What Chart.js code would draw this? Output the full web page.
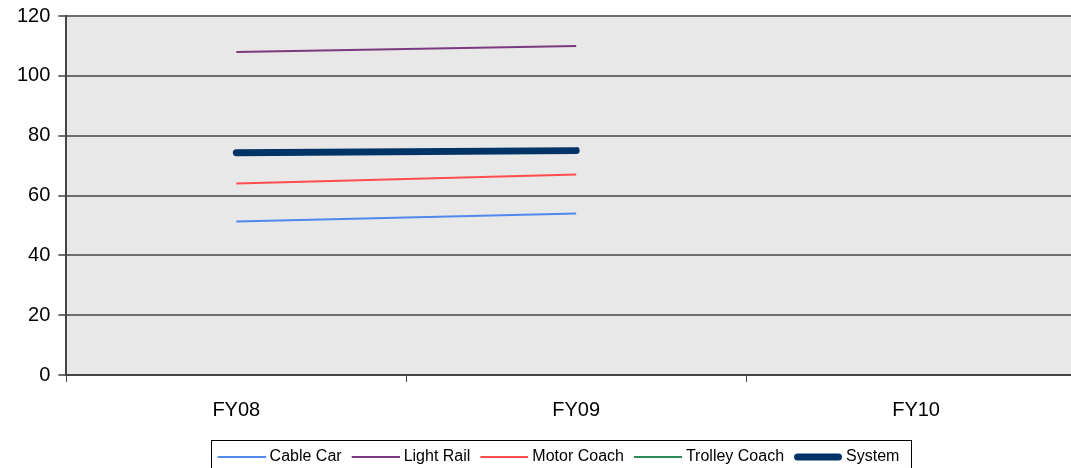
<!DOCTYPE html>
<html>
<head>
<meta charset="utf-8">
<script src="https://cdn.jsdelivr.net/npm/chart.js@4.4.1/dist/chart.umd.min.js"></script>
<style>
  html, body { margin: 0; padding: 0; background: #fff; overflow: hidden; }
  #wrap { position: relative; width: 1090px; height: 475px; }
</style>
</head>
<body>
<div id="wrap"><canvas id="chart"></canvas></div>
<script>
// data
const years        = ['FY08', 'FY09', 'FY10'];
const cableCar     = [51.3, 54, null];
const lightRail    = [108, 110, null];
const motorCoach   = [64, 67, null];
const trolleyCoach = [74.6, 75.3, null];
const systemAll    = [74.3, 75, null];
const yTicks       = [0, 20, 40, 60, 80, 100, 120];

const FONT = 'Liberation Sans, Arial, sans-serif';
const LEG_FONT = 16;
const LEG_BOX = 44;   // space chart.js keeps for the marker

// grey plot background
const plotBg = {
  id: 'plotBg',
  beforeDraw(chart) {
    const { ctx, chartArea: a } = chart;
    ctx.save();
    ctx.fillStyle = '#e8e8e8';
    ctx.fillRect(a.left, a.top, a.right - a.left, a.bottom - a.top);
    ctx.restore();
  }
};

// legend sits a bit right of the canvas centre in the original
const legendShift = {
  id: 'legendShift',
  afterLayout(chart) {
    if (!chart.legend) return;
    chart.legend.left += 11;
    chart.legend.right += 11;
  }
};

// frame round the legend
const legendFrame = {
  id: 'legendFrame',
  afterDraw(chart) {
    const boxes = chart.legend && chart.legend.legendHitBoxes;
    if (!boxes || !boxes.length) return;
    const left  = Math.min(...boxes.map(b => b.left)) - 7;
    const right = Math.max(...boxes.map(b => b.left + b.width)) + 11;
    const top   = Math.min(...boxes.map(b => b.top)) - 9;
    const { ctx } = chart;
    ctx.save();
    ctx.strokeStyle = '#000';
    ctx.lineWidth = 1;
    ctx.strokeRect(Math.round(left) + 0.5, Math.round(top) + 0.5, Math.round(right - left), 40);
    ctx.restore();
  }
};

// legend marker: a 48px line ending 4px before the text
function legendLine(color, width, cap) {
  const c = document.createElement('canvas');
  c.width = 52;
  c.height = 12;
  const g = c.getContext('2d');
  g.strokeStyle = color;
  g.lineWidth = width;
  g.lineCap = cap;
  g.beginPath();
  const pad = cap === 'round' ? width / 2 : 0;
  g.moveTo(4 + pad, 6);
  g.lineTo(52 - pad, 6);
  g.stroke();
  return c;
}

function line(label, data, color, width, cap) {
  return {
    label, data,
    borderColor: color,
    backgroundColor: color,
    borderWidth: width,
    borderCapStyle: cap || 'butt',
    pointRadius: 0,
    pointHoverRadius: 0,
    tension: 0,
    fill: false
  };
}

new Chart(document.getElementById('chart'), {
  type: 'line',
  data: {
    labels: years,
    datasets: [
      line('Cable Car', cableCar, '#5088ee', 2),
      line('Light Rail', lightRail, '#7b3a80', 2),
      line('Motor Coach', motorCoach, '#ff4c4c', 2),
      line('Trolley Coach', trolleyCoach, '#2e8b57', 2),
      line('System', systemAll, '#003366', 7, 'round')
    ].map((d, i, arr) => Object.assign(d, { order: arr.length - i }))
  },
  options: {
    responsive: true,
    maintainAspectRatio: false,
    animation: false,
    layout: { padding: { top: 6, right: 4, left: 9, bottom: 0 } },
    plugins: {
      tooltip: { enabled: false },
      legend: {
        position: 'bottom',
        labels: {
          usePointStyle: true,
          pointStyleWidth: LEG_BOX,
          boxHeight: 16,
          padding: 10,
          color: '#000',
          font: { family: FONT, size: LEG_FONT },
          generateLabels(chart) {
            return chart.data.datasets.map((d, i) => ({
              text: d.label,
              strokeStyle: d.borderColor,
              fillStyle: d.borderColor,
              lineWidth: 0,
              pointStyle: legendLine(d.borderColor, d.borderWidth, d.borderCapStyle),
              hidden: false,
              datasetIndex: i
            }));
          }
        }
      }
    },
    scales: {
      x: {
        offset: true,
        grid: {
          offset: true,
          drawOnChartArea: false,
          drawTicks: true,
          tickLength: 7,
          color: '#444',
          lineWidth: 1
        },
        border: { display: true, color: '#444', width: 2 },
        ticks: { color: '#000', padding: 18, font: { family: FONT, size: 20, lineHeight: 1.05 } }
      },
      y: {
        min: 0,
        max: 120,
        afterBuildTicks(axis) { axis.ticks = yTicks.map(v => ({ value: v })); },
        grid: { color: '#6e6e6e', lineWidth: 2, tickLength: 8 },
        border: { display: true, color: '#444', width: 2 },
        ticks: { color: '#000', padding: 8, font: { family: FONT, size: 20, lineHeight: 0.8 } }
      }
    }
  },
  plugins: [plotBg, legendShift, legendFrame]
});
</script>
</body>
</html>
